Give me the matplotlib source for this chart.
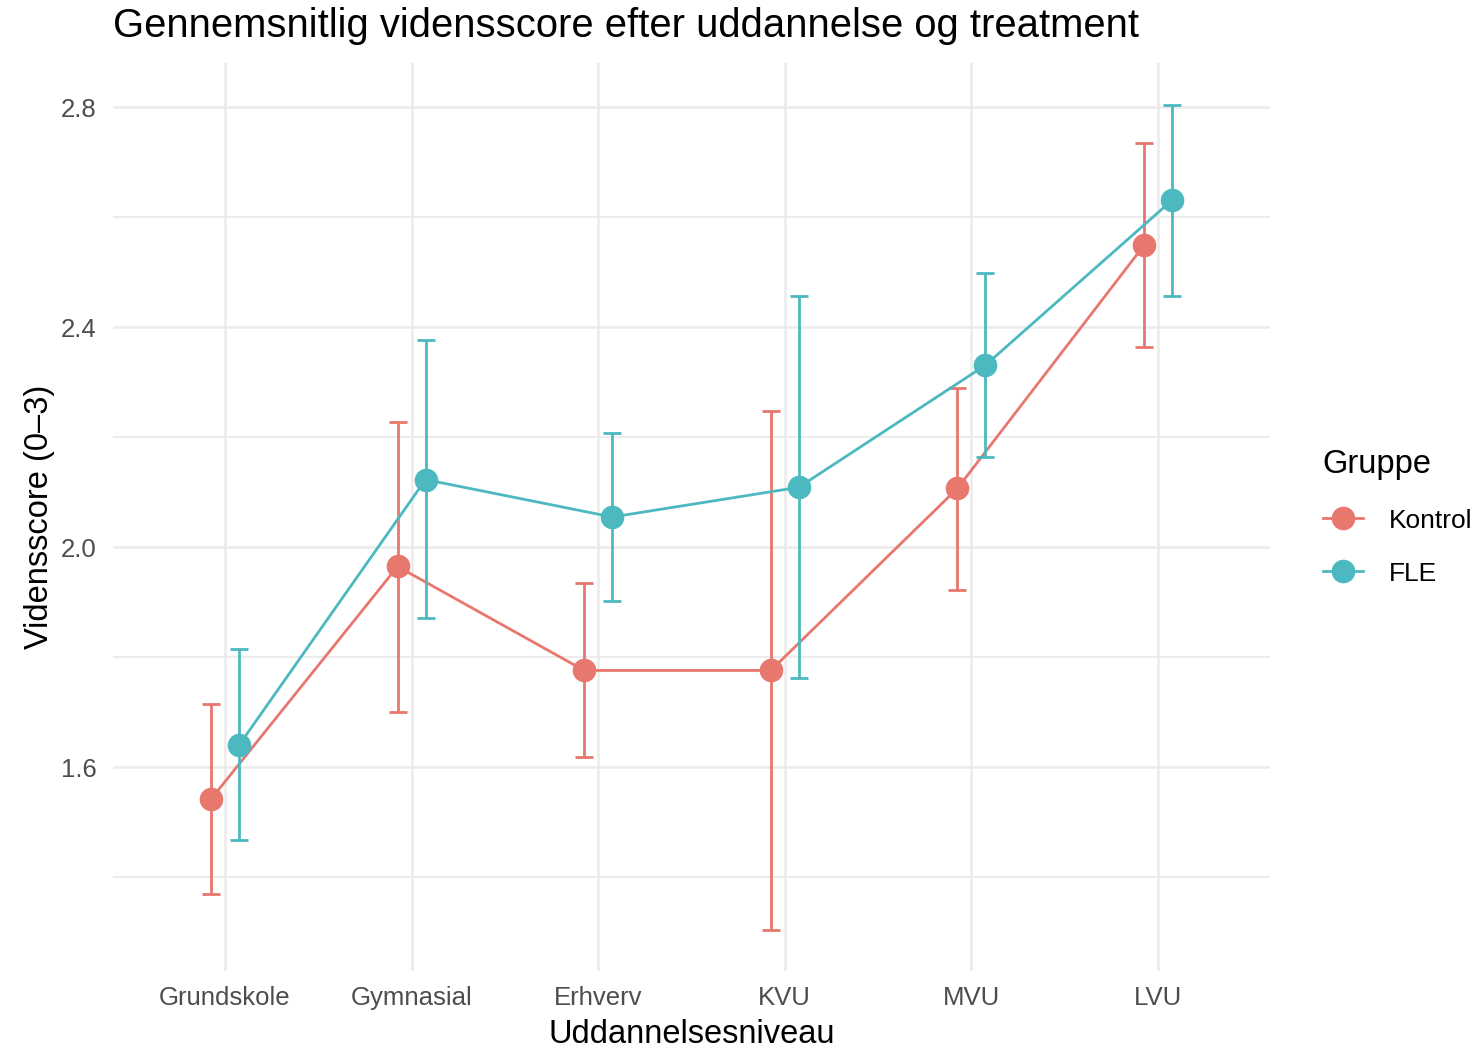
import numpy as np
import matplotlib
matplotlib.use('Agg')
import matplotlib.pyplot as plt
from matplotlib.lines import Line2D

plt.rcParams['font.family'] = ['Liberation Sans', 'DejaVu Sans']

# data
niveauer = ['Grundskole', 'Gymnasial', 'Erhverv', 'KVU', 'MVU', 'LVU']
grupper = ['Kontrol', 'FLE']
kontrol_mean = [1.542, 1.965, 1.776, 1.776, 2.107, 2.549]
kontrol_low = [1.369, 1.700, 1.618, 1.304, 1.922, 2.365]
kontrol_high = [1.715, 2.228, 1.935, 2.248, 2.290, 2.735]
fle_mean = [1.640, 2.123, 2.055, 2.109, 2.331, 2.631]
fle_low = [1.467, 1.871, 1.903, 1.762, 2.164, 2.456]
fle_high = [1.815, 2.376, 2.208, 2.456, 2.499, 2.805]

farver = {'Kontrol': '#E8776D', 'FLE': '#4CB9C0'}
dodge = {'Kontrol': -0.075, 'FLE': 0.075}
serier = {
    'Kontrol': (kontrol_mean, kontrol_low, kontrol_high),
    'FLE': (fle_mean, fle_low, fle_high),
}

W, H = 1481, 1050
fig = plt.figure(figsize=(W / 100, H / 100), dpi=100)
ax = fig.add_axes([113 / W, 1 - 971 / H, (1270 - 113) / W, (971 - 63) / H])

x = np.arange(1, len(niveauer) + 1)
for g in grupper:
    m, lo, hi = (np.array(v) for v in serier[g])
    xs = x + dodge[g]
    c = farver[g]
    ax.plot(xs, m, color=c, lw=2.0, zorder=3)
    ax.errorbar(xs, m, yerr=[m - lo, hi - m], fmt='none', ecolor=c,
                elinewidth=2.0, capsize=6.5, capthick=2.0, zorder=3)
    ax.plot(xs, m, 'o', color=c, ms=17, mec='none', zorder=4)

ax.set_xlim(0.4, 6.6)
ax.set_ylim(1.2295, 2.8805)
ax.set_xticks(x)
ax.set_xticklabels(niveauer)
ax.set_yticks([1.6, 2.0, 2.4, 2.8])
ax.set_yticks([1.4, 1.8, 2.2, 2.6], minor=True)

ax.grid(True, which='major', color='#EBEBEB', lw=1.8)
ax.grid(True, which='minor', axis='y', color='#EBEBEB', lw=1.3)
ax.set_axisbelow(True)
for s in ax.spines.values():
    s.set_visible(False)
ax.tick_params(which='both', length=0, labelsize=18.5, colors='#4D4D4D')
ax.tick_params(axis='x', pad=11)
ax.tick_params(axis='y', pad=12)

ax.set_xlabel('Uddannelsesniveau', fontsize=23.5, color='black', labelpad=6)
ax.set_ylabel('Vidensscore (0–3)', fontsize=23.5, color='black', labelpad=4)

fig.text(113 / W, 1 - 26 / H, 'Gennemsnitlig vidensscore efter uddannelse og treatment',
         fontsize=28.8, ha='left', va='center')

handles = [Line2D([], [], color=farver[g], lw=2.0, marker='o', ms=17, mec='none')
           for g in grupper]
leg = fig.legend(handles, grupper, loc='upper left',
                 bbox_to_anchor=(1312 / W, 1 - 438 / H), frameon=False,
                 fontsize=19, title='Gruppe', title_fontsize=23.5,
                 handlelength=1.55, handletextpad=0.95, labelspacing=1.1,
                 borderaxespad=0, alignment='left')

fig.savefig('out.png', dpi=100)
